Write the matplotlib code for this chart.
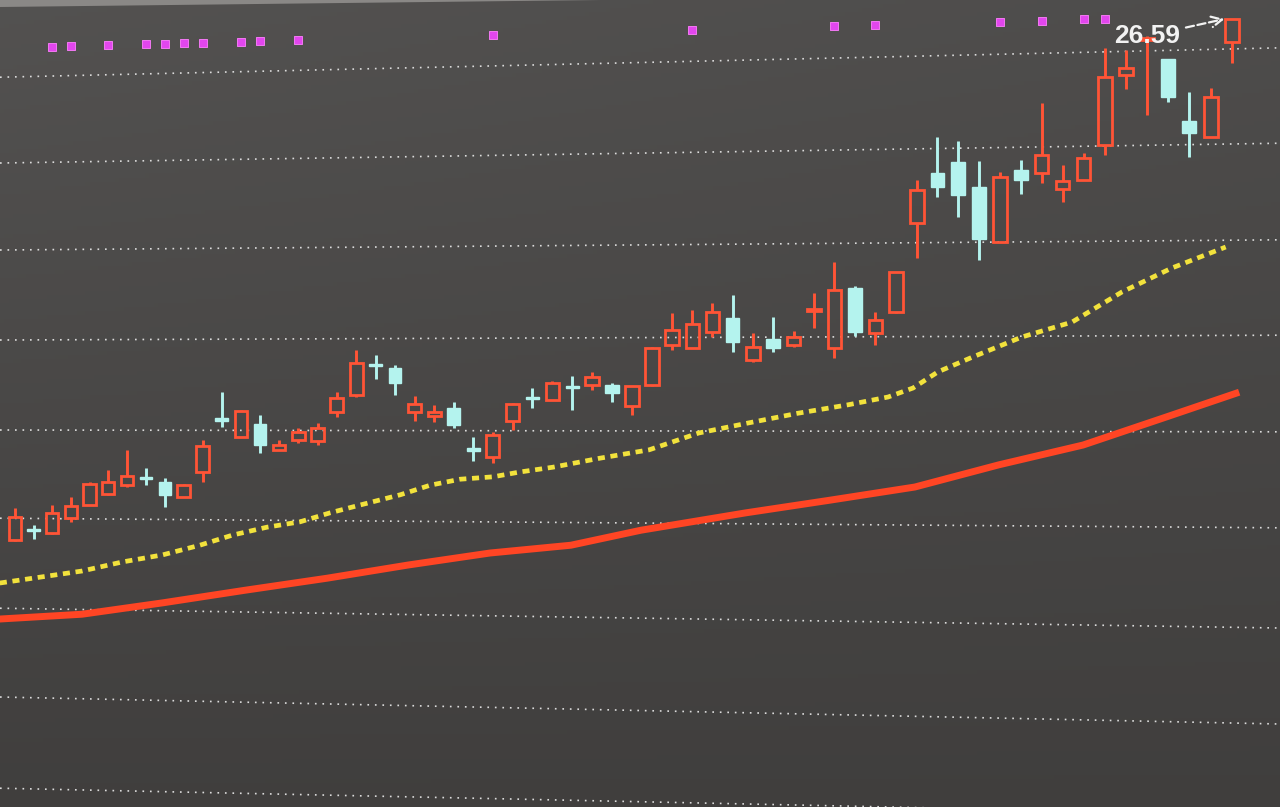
"""
K线图复刻：日K + 均线 + 信号点
"""
import numpy as np
import matplotlib
matplotlib.use('Agg')
import matplotlib.pyplot as plt
from matplotlib.patches import Polygon

# ---- 数据（从图上读取的价格） ----
opens = [17.91, 18.09, 18.02, 18.27, 18.49, 18.67, 18.82, 18.96, 18.87, 18.62,
         19.04, 19.94, 19.62, 19.84, 19.41, 19.57, 19.56, 20.04, 20.32, 20.84,
         20.77, 20.04, 19.97, 20.11, 19.44, 19.29, 19.89, 20.29, 20.24, 20.47,
         20.49, 20.49, 20.14, 20.49, 21.16, 21.11, 21.37, 21.61, 20.91, 21.26,
         21.16, 21.72, 21.11, 22.11, 21.36, 21.71, 23.19, 24.02, 24.21, 23.79,
         22.87, 24.07, 24.02, 23.76, 23.91, 24.49, 25.66, 26.24, 25.92, 24.89,
         24.62, 26.21]
highs = [18.44, 18.16, 18.49, 18.62, 18.87, 19.07, 19.41, 19.11, 18.94, 18.84,
         19.57, 20.37, 20.07, 19.99, 19.57, 19.77, 19.86, 20.37, 21.07, 20.99,
         20.82, 20.31, 20.16, 20.21, 19.62, 19.71, 20.19, 20.44, 20.56, 20.64,
         20.71, 20.52, 20.47, 21.12, 21.69, 21.74, 21.86, 21.99, 21.36, 21.62,
         21.39, 22.02, 22.54, 22.14, 21.71, 22.37, 23.91, 24.62, 24.56, 24.22,
         24.04, 24.24, 25.19, 24.16, 24.36, 26.11, 26.07, 26.31, 25.92, 25.37,
         25.44, 26.59]
lows = [17.89, 17.92, 18.01, 18.21, 18.49, 18.66, 18.79, 18.82, 18.46, 18.62,
        18.87, 19.79, 19.62, 19.36, 19.41, 19.52, 19.49, 19.96, 20.29, 20.59,
        20.32, 19.89, 19.87, 19.77, 19.22, 19.19, 19.74, 20.11, 20.24, 20.07,
        20.41, 20.21, 19.99, 20.47, 21.07, 21.11, 21.29, 21.04, 20.87, 21.04,
        21.12, 21.44, 20.94, 21.31, 21.16, 21.69, 22.61, 23.62, 23.29, 22.57,
        22.87, 23.67, 23.86, 23.54, 23.91, 24.32, 25.42, 24.99, 25.21, 24.29,
        24.62, 25.86]
closes = [18.29, 18.06, 18.36, 18.47, 18.84, 18.87, 18.97, 18.92, 18.66, 18.82,
          19.47, 19.89, 20.06, 19.49, 19.49, 19.71, 19.77, 20.27, 20.86, 20.81,
          20.52, 20.17, 20.04, 19.82, 19.39, 19.66, 20.17, 20.26, 20.52, 20.44,
          20.62, 20.36, 20.47, 21.11, 21.41, 21.51, 21.71, 21.21, 21.12, 21.11,
          21.29, 21.76, 22.07, 21.37, 21.57, 22.37, 23.74, 23.79, 23.66, 22.92,
          23.96, 23.91, 24.32, 23.89, 24.27, 25.62, 25.77, 26.27, 25.29, 24.69,
          25.29, 26.59]

# 短期均线（黄色虚线）
ma_short_x = [-0.82, 1.40, 3.60, 5.73, 7.90, 9.85, 11.58, 13.36, 15.09, 16.65,
              18.20, 20.26, 21.80, 23.33, 25.00, 26.36, 28.03, 30.39, 32.86, 35.32,
              37.81, 40.22, 42.66, 44.61, 45.82, 47.03, 48.72, 51.06, 53.46, 55.82,
              58.18, 60.71]
ma_short_y = [17.19, 17.29, 17.39, 17.54, 17.66, 17.82, 17.99, 18.12, 18.21, 18.36,
              18.49, 18.66, 18.82, 18.92, 18.96, 19.04, 19.12, 19.27, 19.41, 19.69,
              19.86, 20.02, 20.16, 20.29, 20.44, 20.71, 20.96, 21.29, 21.54, 22.04,
              22.44, 22.79]

# 长期均线（红色实线）
ma_long_x = [-0.82, 3.60, 7.90, 12.23, 16.49, 20.67, 24.85, 28.94, 32.45, 37.66,
             41.77, 45.91, 49.96, 53.98, 57.94, 61.34]
ma_long_y = [16.59, 16.67, 16.86, 17.07, 17.27, 17.49, 17.69, 17.82, 18.07, 18.36,
             18.57, 18.79, 19.16, 19.49, 19.96, 20.37]

# 顶部紫色信号点所在的K线序号
signal_idx = [2, 3, 5, 7, 8, 9, 10, 12, 13, 15, 25, 35, 42, 44, 50, 52, 54, 55]

# 网格线（照片有透视，左右两端价格不同）
grid_left = [25.62, 24.19, 22.74, 21.24, 19.74, 18.27, 16.77, 15.29, 13.77]
grid_right = [26.11, 24.52, 22.91, 21.32, 19.71, 18.11, 16.44, 14.84, 13.32]

# ---- 样式 ----
RED = '#ff5436'
CYAN = '#b4f3ee'
YELLOW = '#f2e23c'
MA_RED = '#ff4524'
MAGENTA = '#e246ee'

W, H = 1280, 807
# 照片透视：K线间距从左到右逐渐变宽
A, B, X0 = 18.54, 0.0231, 15.0


def fwd(k):
    k = np.asarray(k, dtype=float)
    return X0 + A * k + B * k * k


def inv(p):
    p = np.asarray(p, dtype=float)
    d = np.clip(A * A + 4 * B * (p - X0), 0, None)
    return (-A + np.sqrt(d)) / (2 * B)


fig = plt.figure(figsize=(W / 100, H / 100), dpi=100)

# 背景渐变
bg = fig.add_axes([0, 0, 1, 1])
yy = np.linspace(1, 0, 200)[:, None]
xx = np.linspace(0, 1, 300)[None, :]
val = 0.245 + 0.055 * yy + 0.02 * yy * (1 - xx)
img = np.dstack([val + 0.006, val, val - 0.004])
bg.imshow(np.clip(img, 0, 1), extent=(0, 1, 0, 1), aspect='auto', zorder=0)
bg.add_patch(Polygon([(0, 1), (0, 1 - 7 / H), (0.47, 1)], closed=True,
                     facecolor='#8a8886', edgecolor='none'))
bg.set_xlim(0, 1)
bg.set_ylim(0, 1)
bg.axis('off')

ax = fig.add_axes([0, 0, 1, 1], facecolor='none')
ax.set_xscale('function', functions=(fwd, inv))
xmin, xmax = float(inv(0)), float(inv(W))
ax.set_xlim(xmin, xmax)
ax.set_ylim(26.907 - H / 60, 26.907)

# 网格线
for gl, gr in zip(grid_left, grid_right):
    ax.plot([0, 1], [gl, gr], transform=ax.get_yaxis_transform(),
            color='#dcdcdc', lw=1.2, linestyle=(0, (1, 3.5)), zorder=1)

# 均线
ax.plot(ma_long_x, ma_long_y, color=MA_RED, lw=5.0, solid_capstyle='butt', zorder=2)
ax.plot(ma_short_x, ma_short_y, color=YELLOW, lw=3.4, dashes=(1.5, 1.2),
        dash_capstyle='butt', zorder=2)

# K线
width = 0.66
x = np.arange(len(opens))
for i in x:
    o, h, l, c = opens[i], highs[i], lows[i], closes[i]
    top, bot = max(o, c), min(o, c)
    body = max(top - bot, 0.03)
    if c >= o:
        ax.bar(i, body, bottom=bot, width=width, facecolor='none',
               edgecolor=RED, linewidth=2.0, zorder=4)
        col = RED
    else:
        ax.bar(i, body, bottom=bot, width=width, facecolor=CYAN,
               edgecolor=CYAN, linewidth=1.0, zorder=4)
        col = CYAN
    if h > top:
        ax.vlines(i, top, h, color=col, lw=2.1, zorder=3)
    if l < bot:
        ax.vlines(i, l, bot, color=col, lw=2.1, zorder=3)

# 信号点（沿照片透视的顶行排列）
sig_left, sig_right = 26.105, 26.67
frac = (fwd(signal_idx) - fwd(xmin)) / (fwd(xmax) - fwd(xmin))
sig_y = sig_left + (sig_right - sig_left) * frac
ax.scatter(signal_idx, sig_y, marker='s', s=32, color=MAGENTA,
           edgecolors='#ff80ff', linewidths=0.6, zorder=5)

# 最高价标注
last = len(opens) - 1
ax.annotate(f'{highs[last]:.2f}', xy=(last - 0.35, highs[last]),
            xytext=(-77, -17), textcoords='offset pixels',
            ha='center', va='center', fontsize=19, fontweight='bold',
            family='Liberation Sans', color='#f2f2f2',
            arrowprops=dict(arrowstyle='->', color='#f2f2f2', lw=1.6,
                            linestyle='--', shrinkA=2, shrinkB=0),
            zorder=6)

ax.set_xticks([])
ax.set_yticks([])
for s in ax.spines.values():
    s.set_visible(False)

plt.savefig('out.png', dpi=100)
plt.close()
